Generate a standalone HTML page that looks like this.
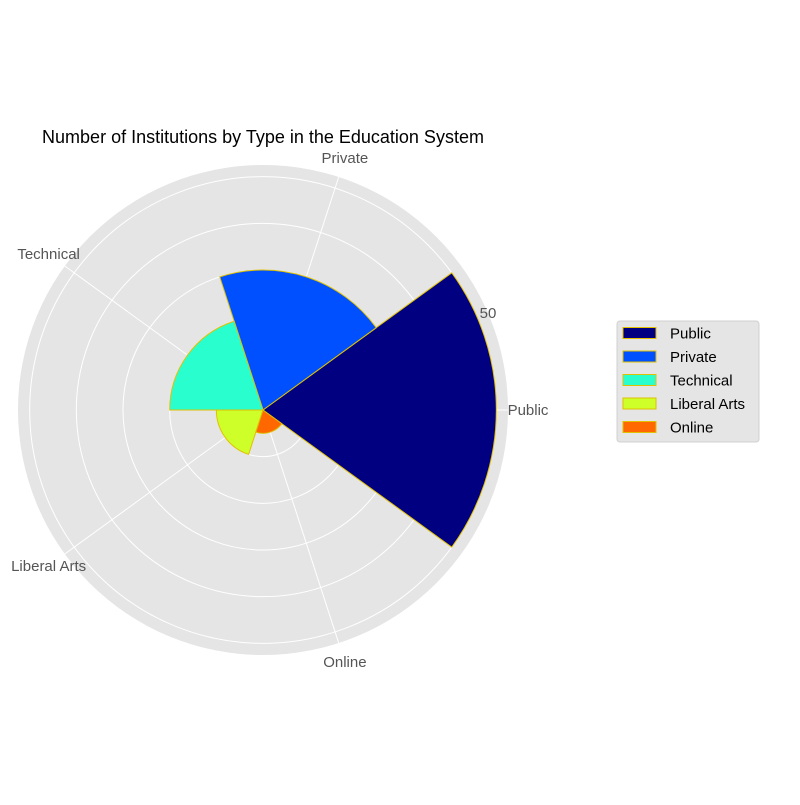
<!DOCTYPE html>
<html><head><meta charset="utf-8"><style>
body{margin:0;background:#fff;}
text{font-family:"Liberation Sans",Arial,sans-serif;}
</style></head><body>
<svg id="chart" width="800" height="800" xmlns="http://www.w3.org/2000/svg">
<rect width="800" height="800" fill="#fff"/>
<text x="263" y="143" font-size="18" text-anchor="middle" fill="#000">Number of Institutions by Type in the Education System</text>
<g id="plot"></g>
<g id="legend">
<rect x="617" y="321" width="142" height="121" rx="3" fill="#e5e5e5" stroke="#d0d0d0" stroke-width="1"/>
</g>
</svg>
<script>
const categories = ["Public","Private","Technical","Liberal Arts","Online"];
const values = [50, 30, 20, 10, 5];
const colors = ["#000080","#0050ff","#29ffce","#ceff29","#ff6800"];
const rTicks = [10,20,30,40,50];
const rTickLabels = ["50"];
const cx=263, cy=410, R=245, rMax=52.5;
const ns="http://www.w3.org/2000/svg";
const plot=document.getElementById('plot');
function rs(v){return v/rMax*R;}
function pt(r,deg){const a=deg*Math.PI/180;return [cx+r*Math.cos(a), cy-r*Math.sin(a)];}
function mk(tag,attrs){const e=document.createElementNS(ns,tag);for(const k in attrs)e.setAttribute(k,attrs[k]);return e;}
const bg=mk('circle',{cx:cx,cy:cy,r:R,fill:'#e5e5e5'});


plot.appendChild(bg);
rTicks.forEach(t=>{const c=mk('circle',{cx:cx,cy:cy,r:rs(t),fill:'none',stroke:'#fff','stroke-width':1});


plot.appendChild(c);});
const n=categories.length, step=360/n;
categories.forEach((c,i)=>{const [x,y]=pt(R,i*step);const l=mk('line',{x1:cx,y1:cy,x2:x,y2:y,stroke:'#fff','stroke-width':1});


plot.appendChild(l);});
values.forEach((v,i)=>{const r=rs(v);const a0=i*step-step/2,a1=i*step+step/2;
const [x0,y0]=pt(r,a0),[x1,y1]=pt(r,a1);
const p=mk('path',{d:`M${cx},${cy}L${x0},${y0}A${r},${r} 0 0 0 ${x1},${y1}Z`,fill:colors[i],stroke:'#e0c000','stroke-width':1});


plot.appendChild(p);});
categories.forEach((c,i)=>{const [x,y]=pt(R+20,i*step);const t=mk('text',{x:x,y:y+5,'font-size':15,'text-anchor':'middle',fill:'#555'});t.textContent=c;


plot.appendChild(t);});
rTickLabels.forEach(s=>{const [x,y]=pt(rs(+s)+12,23.5);const t=mk('text',{x:x,y:y+6,'font-size':15,'text-anchor':'middle',fill:'#555'});t.textContent=s;


plot.appendChild(t);});
const lg=document.getElementById('legend');
categories.forEach((c,i)=>{const y=333+i*23.5;
const sw=mk('rect',{x:623,y:y-5.5,width:33,height:11,fill:colors[i],stroke:'#e0c000','stroke-width':1});


lg.appendChild(sw);
const t=mk('text',{x:670,y:y+5.5,'font-size':15,fill:'#000'});t.textContent=c;


lg.appendChild(t);});
</script>
</body></html>
